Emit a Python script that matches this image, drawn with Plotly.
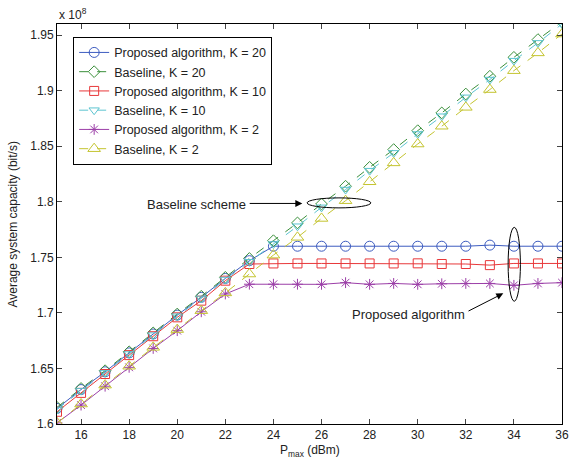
import plotly.graph_objects as go

# Transmit power P_max (dBm)
p_max = list(range(15, 37))

# Average system capacity, in units of 1e8 bit/s
prop_k20 = [1.614, 1.631, 1.647, 1.664, 1.681, 1.698, 1.714, 1.731, 1.747, 1.760, 1.760,
            1.760, 1.760, 1.760, 1.760, 1.760, 1.760, 1.760, 1.761, 1.760, 1.760, 1.760]
base_k20 = [1.615, 1.632, 1.648, 1.665, 1.682, 1.699, 1.715, 1.732, 1.749, 1.765, 1.781,
            1.798, 1.814, 1.831, 1.847, 1.864, 1.880, 1.897, 1.913, 1.930, 1.946, 1.962]
prop_k10 = [1.611, 1.628, 1.645, 1.662, 1.679, 1.696, 1.711, 1.729, 1.744, 1.7445, 1.7445,
            1.7445, 1.7445, 1.7445, 1.7445, 1.7446, 1.744, 1.744, 1.743, 1.7445, 1.7445, 1.7445]
base_k10 = [1.613, 1.630, 1.646, 1.663, 1.680, 1.697, 1.713, 1.730, 1.746, 1.762, 1.778,
            1.795, 1.811, 1.828, 1.844, 1.861, 1.877, 1.894, 1.910, 1.927, 1.943, 1.960]
prop_k2 = [1.601, 1.617, 1.634, 1.651, 1.668, 1.684, 1.701, 1.717, 1.7258, 1.7258, 1.7258,
           1.7257, 1.7272, 1.7257, 1.7265, 1.7257, 1.7262, 1.7265, 1.7265, 1.7248, 1.7265, 1.7272]
base_k2 = [1.601, 1.618, 1.635, 1.652, 1.669, 1.685, 1.702, 1.718, 1.735, 1.752, 1.768,
           1.785, 1.801, 1.818, 1.835, 1.852, 1.868, 1.885, 1.901, 1.918, 1.934, 1.951]

x_ticks = list(range(16, 37, 2))
y_ticks = [1.6, 1.65, 1.7, 1.75, 1.8, 1.85, 1.9, 1.95]
y_tick_labels = ["1.6", "1.65", "1.7", "1.75", "1.8", "1.85", "1.9", "1.95"]

series = [
    ("Proposed algorithm, K = 20", prop_k20, "#3d5cc0", "solid", "circle-open", 10),
    ("Baseline, K = 20", base_k20, "#3a8f3a", "dash", "diamond-open", 9),
    ("Proposed algorithm, K = 10", prop_k10, "#e8383a", "solid", "square-open", 9),
    ("Baseline, K = 10", base_k10, "#5cc4d0", "dash", "triangle-down-open", 9),
    ("Proposed algorithm, K = 2", prop_k2, "#9c3fa8", "solid", "asterisk-open", 9),
    ("Baseline, K = 2", base_k2, "#c4c430", "dash", "triangle-up-open", 11),
]

fig = go.Figure()
for name, vals, color, dash, sym, size in series:
    fig.add_trace(go.Scatter(
        x=p_max, y=vals, name=name, mode="lines+markers",
        line=dict(color=color, width=1, dash=dash),
        marker=dict(symbol=sym, size=size, color=color, line=dict(width=1, color=color)),
        cliponaxis=True,
    ))

font = "Liberation Sans, Arial, Helvetica, sans-serif"
txt = "#222"

fig.update_layout(
    width=569, height=461,
    margin=dict(l=57, r=7, t=24, b=37, autoexpand=False),
    paper_bgcolor="white", plot_bgcolor="white",
    font=dict(family=font, size=12, color=txt),
    showlegend=True,
    legend=dict(x=0.032, y=0.968, xanchor="left", yanchor="top",
                bgcolor="white", bordercolor="black", borderwidth=1,
                font=dict(size=12.5, family=font, color=txt),
                tracegroupgap=0, itemwidth=30),
    xaxis=dict(range=[15, 36], tickvals=x_ticks, ticks="inside", ticklen=5,
               showline=True, linecolor="black", linewidth=1, mirror="ticks",
               showgrid=False, zeroline=False, tickfont=dict(size=12),
               automargin=False),
    yaxis=dict(range=[1.6, 1.96], tickvals=y_ticks, ticktext=y_tick_labels,
               ticks="inside", ticklen=5,
               showline=True, linecolor="black", linewidth=1, mirror="ticks",
               showgrid=False, zeroline=False, tickfont=dict(size=12),
               automargin=False),
)

# Axis titles
fig.add_annotation(x=0.5, y=-0.068, xref="paper", yref="paper", xanchor="center", yanchor="middle",
                   text="P<sub>max</sub> (dBm)", showarrow=False, font=dict(size=12, color=txt))
fig.add_annotation(x=-0.088, y=0.5, xref="paper", yref="paper", xanchor="center", yanchor="middle",
                   text="Average system capacity (bit/s)", textangle=-90, showarrow=False,
                   font=dict(size=12, color=txt))

# Ellipses
fig.add_shape(type="circle", xref="x", yref="y", x0=25.4, x1=28.05, y0=1.7945, y1=1.8035,
              line=dict(color="black", width=1))
fig.add_shape(type="circle", xref="x", yref="y", x0=33.76, x1=34.27, y0=1.7105, y1=1.777,
              line=dict(color="black", width=1))

# Annotation texts
fig.add_annotation(x=20.8, y=1.7978, xref="x", yref="y", text="Baseline scheme",
                   showarrow=False, font=dict(size=13, color=txt))
fig.add_annotation(x=29.62, y=1.6990, xref="x", yref="y", text="Proposed algorithm",
                   showarrow=False, font=dict(size=13, color=txt))
# Arrows
fig.add_annotation(x=25.2, y=1.7985, ax=22.95, ay=1.7985, xref="x", yref="y",
                   axref="x", ayref="y", text="", showarrow=True, arrowhead=2,
                   arrowsize=1.4, arrowwidth=1, arrowcolor="black")
fig.add_annotation(x=33.56, y=1.7176, ax=32.05, ay=1.7010, xref="x", yref="y",
                   axref="x", ayref="y", text="", showarrow=True, arrowhead=2,
                   arrowsize=1.4, arrowwidth=1, arrowcolor="black")

# Exponent label
fig.add_annotation(x=0, y=1.0, xref="paper", yref="paper", xanchor="left", yanchor="bottom",
                   text="x 10<sup>8</sup>", showarrow=False,
                   font=dict(size=12, color=txt))

fig.write_html("out.html", config={"displayModeBar": False},
               post_script="document.body.style.margin='0';document.body.style.padding='0';")
